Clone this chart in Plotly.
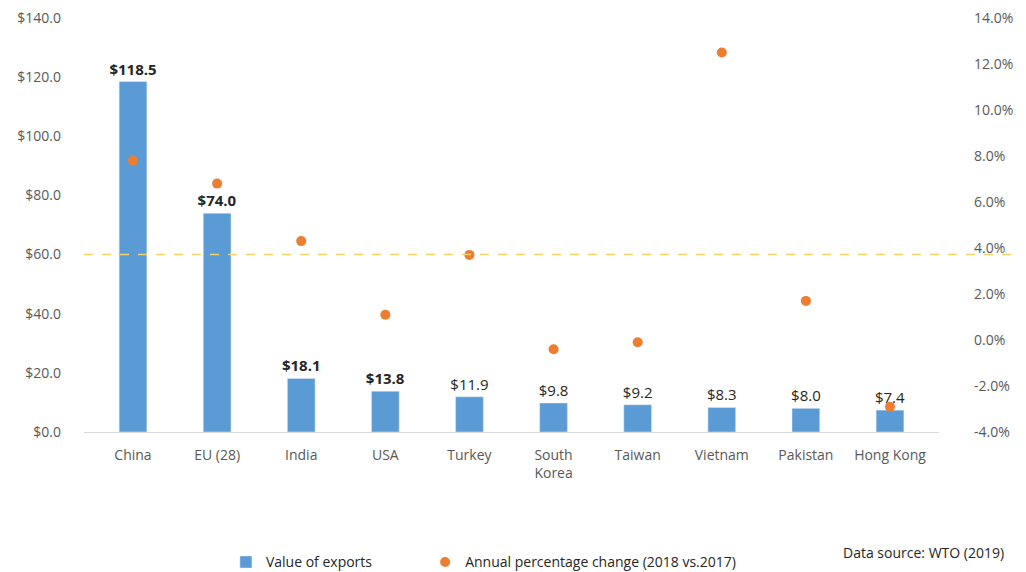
import plotly.graph_objects as go

# Textile exports by economy, 2018 (US$ billion) and annual % change
categories = ["China", "EU (28)", "India", "USA", "Turkey", "South<br>Korea",
              "Taiwan", "Vietnam", "Pakistan", "Hong Kong"]
export_values = [118.5, 74.0, 18.1, 13.8, 11.9, 9.8, 9.2, 8.3, 8.0, 7.4]
pct_change = [7.8, 6.8, 4.3, 1.1, 3.7, -0.4, -0.1, 12.5, 1.7, -2.9]
bold_labels = [True, True, True, True, False, False, False, False, False, False]
reference_level = 60.0

left_ticks = [0, 20, 40, 60, 80, 100, 120, 140]
right_ticks = [-4, -2, 0, 2, 4, 6, 8, 10, 12, 14]

BLUE = "#5b9bd5"
ORANGE = "#ed7d31"
GREY = "#595959"
FONT = "Open Sans"

value_text = [(f"<b>${v:.1f}</b>" if b else f"${v:.1f}") for v, b in zip(export_values, bold_labels)]

fig = go.Figure()
fig.add_trace(go.Bar(
    x=categories, y=export_values, name="Value of exports",
    marker_color=BLUE, width=0.33, legend="legend",
    text=value_text, textposition="outside", cliponaxis=False,
    constraintext="none",
    textfont=dict(family=FONT, size=15, color="#262626"),
))
fig.add_trace(go.Scatter(
    x=categories, y=pct_change, name="Annual percentage change (2018 vs.2017)",
    mode="markers", yaxis="y2", legend="legend2",
    marker=dict(color=ORANGE, size=10),
))

fig.add_shape(type="line", xref="paper", yref="y", x0=0, x1=1.095,
              y0=reference_level, y1=reference_level,
              line=dict(color="#f2d36b", width=1.5, dash="dash"))

fig.add_annotation(text="Data source: WTO (2019)", xref="paper", yref="paper",
                   x=1.078, y=-0.292, xanchor="right", yanchor="middle",
                   showarrow=False, font=dict(family=FONT, size=14, color="#262626"))

legend_style = dict(orientation="h", y=-0.315, xanchor="left", yanchor="middle",
                    font=dict(family=FONT, size=14, color="#262626"), itemwidth=30)

fig.update_layout(
    width=1026, height=572,
    margin=dict(l=84, r=87, t=18, b=140, autoexpand=False),
    paper_bgcolor="white", plot_bgcolor="white",
    font=dict(family=FONT, size=14, color=GREY),
    showlegend=True,
    legend=dict(x=0.166, **legend_style),
    legend2=dict(x=0.399, **legend_style),
    xaxis=dict(showline=True, linecolor="#d9d9d9", linewidth=1, ticks="",
               ticklabelstandoff=10,
               tickfont=dict(family=FONT, size=14, color=GREY)),
    yaxis=dict(range=[0, 140], tickvals=left_ticks,
               ticktext=[f"${t:.1f}" for t in left_ticks],
               showgrid=False, zeroline=False, ticks="", ticklabelstandoff=22,
               tickfont=dict(family=FONT, size=14, color=GREY)),
    yaxis2=dict(range=[-4, 14], overlaying="y", side="right",
                tickvals=right_ticks,
                ticktext=[f"{t:.1f}%" for t in right_ticks],
                showgrid=False, zeroline=False, ticks="", ticklabelstandoff=34,
                tickfont=dict(family=FONT, size=14, color=GREY)),
)

fig.write_html("out.html")
